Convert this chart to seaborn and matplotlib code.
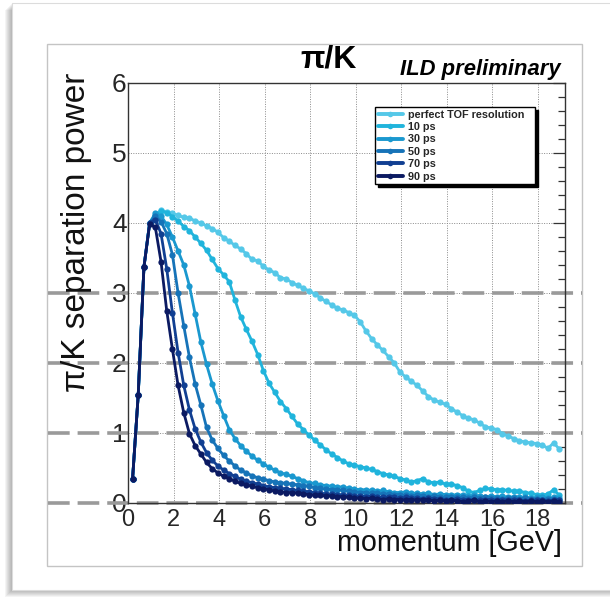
import matplotlib
matplotlib.use("Agg")
import numpy as np
import pandas as pd
import seaborn as sns
import matplotlib.pyplot as plt
import matplotlib.transforms as mtransforms
from matplotlib.lines import Line2D
from matplotlib.patches import Rectangle
from matplotlib.ticker import MultipleLocator

# momentum bins [GeV]
momentum = [0.20, 0.45, 0.70, 0.95, 1.20, 1.45, 1.70, 1.95, 2.20, 2.45,
            2.70, 2.95, 3.20, 3.45, 3.70, 3.95, 4.20, 4.45, 4.70, 4.95,
            5.20, 5.45, 5.70, 5.95, 6.20, 6.45, 6.70, 6.95, 7.20, 7.45,
            7.70, 7.95, 8.20, 8.45, 8.70, 8.95, 9.20, 9.45, 9.70, 9.95,
            10.20, 10.45, 10.70, 10.95, 11.20, 11.45, 11.70, 11.95, 12.20, 12.45,
            12.70, 12.95, 13.20, 13.45, 13.70, 13.95, 14.20, 14.45, 14.70, 14.95,
            15.20, 15.45, 15.70, 15.95, 16.20, 16.45, 16.70, 16.95, 17.20, 17.45,
            17.70, 17.95, 18.20, 18.45, 18.70, 18.95]

# separation power per TOF resolution
sep_perfect = [0.34, 1.55, 3.37, 4.00, 4.12, 4.18, 4.16, 4.14, 4.11, 4.08,
               4.07, 4.03, 4.00, 3.96, 3.92, 3.87, 3.79, 3.74, 3.68, 3.63,
               3.56, 3.48, 3.46, 3.38, 3.33, 3.29, 3.22, 3.20, 3.15, 3.11,
               3.07, 3.03, 2.99, 2.93, 2.88, 2.83, 2.78, 2.76, 2.72, 2.68,
               2.59, 2.46, 2.35, 2.26, 2.18, 2.09, 2.00, 1.87, 1.80, 1.74,
               1.68, 1.60, 1.52, 1.47, 1.44, 1.41, 1.35, 1.30, 1.25, 1.21,
               1.19, 1.14, 1.09, 1.07, 1.05, 0.99, 0.96, 0.92, 0.89, 0.87,
               0.86, 0.85, 0.83, 0.78, 0.86, 0.77]
sep_10ps = [0.34, 1.55, 3.37, 4.00, 4.10, 4.17, 4.15, 4.09, 4.03, 3.95,
            3.89, 3.80, 3.71, 3.61, 3.48, 3.35, 3.26, 3.16, 2.90, 2.66,
            2.48, 2.31, 2.12, 1.89, 1.71, 1.58, 1.45, 1.35, 1.24, 1.13,
            1.05, 0.97, 0.90, 0.83, 0.76, 0.70, 0.65, 0.60, 0.56, 0.54,
            0.52, 0.50, 0.48, 0.45, 0.42, 0.40, 0.38, 0.35, 0.33, 0.30,
            0.32, 0.35, 0.30, 0.29, 0.30, 0.27, 0.27, 0.25, 0.22, 0.17,
            0.15, 0.18, 0.21, 0.20, 0.19, 0.19, 0.18, 0.17, 0.17, 0.15,
            0.14, 0.12, 0.11, 0.13, 0.19, 0.11]
sep_30ps = [0.34, 1.55, 3.37, 4.00, 4.14, 4.10, 3.98, 3.80, 3.60, 3.40,
            3.10, 2.70, 2.30, 1.98, 1.70, 1.46, 1.25, 1.05, 0.92, 0.82,
            0.74, 0.67, 0.61, 0.56, 0.51, 0.47, 0.43, 0.41, 0.38, 0.35,
            0.32, 0.29, 0.28, 0.26, 0.25, 0.24, 0.23, 0.23, 0.21, 0.20,
            0.19, 0.19, 0.18, 0.17, 0.18, 0.16, 0.15, 0.15, 0.16, 0.14,
            0.14, 0.13, 0.14, 0.12, 0.13, 0.12, 0.11, 0.12, 0.11, 0.10,
            0.11, 0.10, 0.09, 0.10, 0.09, 0.10, 0.08, 0.09, 0.08, 0.09,
            0.07, 0.08, 0.09, 0.07, 0.08, 0.07]
sep_50ps = [0.34, 1.55, 3.37, 4.00, 4.10, 4.02, 3.85, 3.55, 3.00, 2.53,
            2.08, 1.70, 1.40, 1.08, 0.90, 0.78, 0.68, 0.60, 0.53, 0.47,
            0.43, 0.39, 0.36, 0.34, 0.32, 0.30, 0.29, 0.28, 0.27, 0.26,
            0.25, 0.24, 0.22, 0.21, 0.20, 0.19, 0.19, 0.18, 0.17, 0.16,
            0.15, 0.15, 0.14, 0.14, 0.13, 0.13, 0.12, 0.12, 0.11, 0.10,
            0.11, 0.10, 0.09, 0.10, 0.09, 0.08, 0.09, 0.08, 0.08, 0.07,
            0.08, 0.07, 0.08, 0.07, 0.07, 0.06, 0.07, 0.07, 0.06, 0.07,
            0.06, 0.06, 0.05, 0.06, 0.06, 0.05]
sep_70ps = [0.34, 1.55, 3.37, 4.00, 4.05, 3.85, 3.35, 2.72, 2.15, 1.68,
            1.33, 1.06, 0.87, 0.72, 0.61, 0.53, 0.47, 0.42, 0.38, 0.34,
            0.31, 0.29, 0.27, 0.25, 0.23, 0.22, 0.21, 0.20, 0.19, 0.18,
            0.17, 0.16, 0.15, 0.14, 0.13, 0.13, 0.12, 0.12, 0.11, 0.10,
            0.10, 0.09, 0.10, 0.09, 0.08, 0.09, 0.08, 0.07, 0.08, 0.07,
            0.07, 0.06, 0.07, 0.06, 0.06, 0.05, 0.05, 0.06, 0.05, 0.05,
            0.04, 0.04, 0.05, 0.05, 0.04, 0.04, 0.05, 0.04, 0.04, 0.03,
            0.04, 0.04, 0.04, 0.03, 0.04, 0.04]
sep_90ps = [0.34, 1.55, 3.37, 3.98, 3.94, 3.45, 2.75, 2.20, 1.68, 1.29,
            0.99, 0.82, 0.70, 0.58, 0.49, 0.43, 0.38, 0.35, 0.31, 0.28,
            0.26, 0.24, 0.22, 0.20, 0.19, 0.17, 0.16, 0.15, 0.15, 0.14,
            0.13, 0.12, 0.11, 0.11, 0.10, 0.10, 0.09, 0.09, 0.08, 0.07,
            0.07, 0.06, 0.07, 0.06, 0.05, 0.06, 0.05, 0.05, 0.04, 0.05,
            0.04, 0.05, 0.04, 0.03, 0.04, 0.03, 0.04, 0.03, 0.02, 0.03,
            0.04, 0.02, 0.03, 0.02, 0.03, 0.02, 0.03, 0.02, 0.03, 0.02,
            0.03, 0.02, 0.03, 0.02, 0.03, 0.02]

labels = ["perfect TOF resolution", "10 ps", "30 ps", "50 ps", "70 ps", "90 ps"]
colors = ["#55c8e8", "#20b4dc", "#1a98cf", "#1673b8", "#113f92", "#0b1a62"]
series = [sep_perfect, sep_10ps, sep_30ps, sep_50ps, sep_70ps, sep_90ps]

rows = []
for lab, vals in zip(labels, series):
    for m, v in zip(momentum, vals):
        rows.append((lab, m, v))
df = pd.DataFrame(rows, columns=["res", "p", "sep"])

sns.set_theme(style="white")
plt.rcParams["font.family"] = ["Liberation Sans", "DejaVu Sans"]

W, H = 610, 602
fig = plt.figure(figsize=(W / 100, H / 100), dpi=100)


def fx(x):
    return x / W


def fy(y):
    return 1 - y / H


# outer panel with soft shadow
for k in range(1, 8):
    fig.add_artist(Rectangle((fx(12 - k), fy(590 + k)), fx(620), 587 / H,
                             transform=fig.transFigure, color="black",
                             alpha=0.045, lw=0, zorder=-20))
fig.add_artist(Rectangle((fx(12), fy(590)), fx(620), 587 / H,
                         transform=fig.transFigure, facecolor="white",
                         edgecolor="#dcdcdc", lw=0.8, zorder=-10))
# canvas frame
fig.add_artist(Rectangle((fx(47), fy(566)), fx(535), 522 / H,
                         transform=fig.transFigure, fill=False,
                         edgecolor="#c4c4c4", lw=1.0, zorder=-5))

ax = fig.add_axes([fx(128), fy(503), fx(437), 420 / H])
ax.set_facecolor("none")

sns.lineplot(data=df, x="p", y="sep", hue="res", hue_order=labels,
             palette=colors, marker="o", markersize=4.5, markeredgewidth=0,
             linewidth=2.0, errorbar=None, legend=False, ax=ax, zorder=3)

ax.set_xlim(0, 19.2)
ax.set_ylim(0, 6)
ax.set_xticks(range(0, 20, 2))
ax.set_yticks(range(0, 7))
ax.xaxis.set_minor_locator(MultipleLocator(0.5))
ax.yaxis.set_minor_locator(MultipleLocator(0.2))
ax.tick_params(which="both", direction="in", right=True, top=False,
               color="#333333", width=0.9)
ax.tick_params(which="major", length=9)
ax.tick_params(which="minor", length=5)
ax.tick_params(axis="y", labelsize=19, pad=1)
ax.tick_params(axis="x", labelsize=17, pad=4)
ax.grid(True, which="major", ls=(0, (1, 1.5)), color="#8a8a8a", lw=0.7)
for s in ax.spines.values():
    s.set_color("#333333")
    s.set_linewidth(1.0)
ax.set_xlabel("")
ax.set_ylabel("")

# thick dashed reference lines across the whole canvas
blend = mtransforms.blended_transform_factory(fig.transFigure, ax.transData)
for v in [0, 1, 2, 3]:
    ax.add_line(Line2D([fx(48), fx(582)], [v, v], transform=blend,
                       color="#9a9a9a", lw=2.6, dashes=(6, 2.2),
                       clip_on=False, zorder=2))

fig.text(fx(562), fy(543), "momentum [GeV]", ha="right", va="center",
         fontsize=20.7, color="#111111")
fig.text(fx(77), fy(73), "π/K separation power", rotation=90, ha="center",
         va="top", fontsize=24, color="#111111")
fig.text(fx(329), fy(59), "π/K", ha="center", va="center", fontsize=23,
         fontweight="bold", color="black")
fig.text(fx(561), fy(69), "ILD preliminary", ha="right", va="center",
         fontsize=15.8, fontweight="bold", fontstyle="italic", color="black")

handles = [Line2D([], [], color=c, marker="o", markersize=4, lw=2.8,
                  markeredgewidth=0) for c in colors]
leg = ax.legend(handles, labels, loc="upper left",
                bbox_to_anchor=(0.565, 0.757, 0.366, 0.186),
                mode="expand", fancybox=False, framealpha=1,
                edgecolor="black", shadow={"color": "black", "alpha": 1},
                prop={"weight": "bold", "size": 7.8}, handlelength=2.3,
                labelspacing=0.22, borderpad=0.25, handletextpad=0.5,
                borderaxespad=0)
leg.get_frame().set_linewidth(1.0)
leg.set_zorder(5)

fig.savefig("out.png", dpi=100)
